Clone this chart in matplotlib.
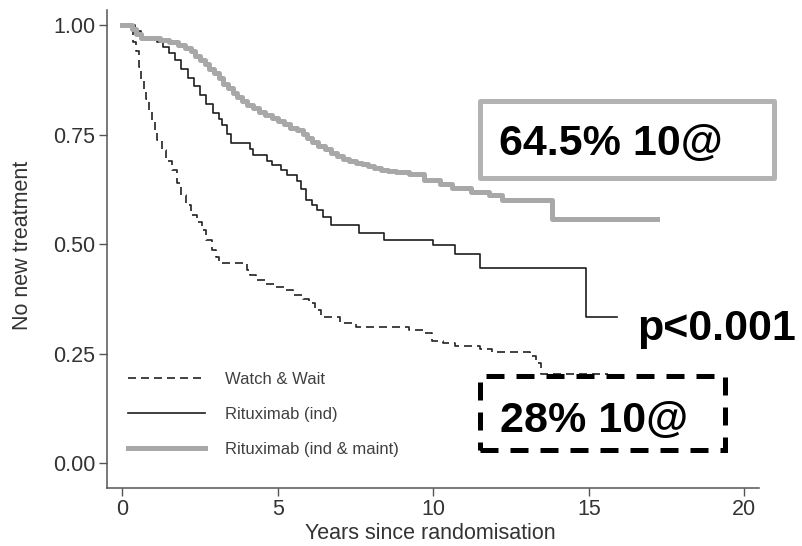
import matplotlib
matplotlib.use("Agg")
import matplotlib.pyplot as plt
from matplotlib.patches import Rectangle

plt.rcParams['font.family'] = ['Liberation Sans', 'DejaVu Sans']

# Kaplan-Meier steps: (years, proportion without new treatment)
ww_t = [0, 0.2, 0.35, 0.45, 0.55, 0.6, 0.7, 0.77, 0.85, 0.94, 1.05, 1.1, 1.26, 1.4,
        1.58, 1.75, 1.9, 2.05, 2.2, 2.4, 2.55, 2.7, 2.87, 3.0, 3.1, 4.0, 4.1, 4.3,
        4.6, 4.9, 5.2, 5.5, 5.8, 6.0, 6.2, 6.4, 7.0, 7.5, 9.2, 9.7, 9.95, 10.3,
        10.7, 11.5, 11.9, 13.1, 13.3, 13.45, 15.6]
ww_s = [1.0, 0.99, 0.96, 0.94, 0.905, 0.875, 0.85, 0.83, 0.805, 0.784, 0.76, 0.738,
        0.715, 0.69, 0.67, 0.64, 0.613, 0.59, 0.567, 0.55, 0.533, 0.51, 0.487, 0.47,
        0.458, 0.44, 0.43, 0.419, 0.41, 0.403, 0.395, 0.385, 0.375, 0.365, 0.35,
        0.333, 0.32, 0.312, 0.305, 0.298, 0.28, 0.275, 0.267, 0.26, 0.255, 0.244,
        0.23, 0.203, 0.203]

ri_t = [0, 0.4, 0.6, 1.1, 1.3, 1.5, 1.7, 1.9, 2.1, 2.3, 2.5, 2.7, 2.9, 3.1, 3.2,
        3.35, 3.5, 4.1, 4.2, 4.65, 4.8, 5.1, 5.3, 5.6, 5.75, 5.9, 6.1, 6.26, 6.45,
        6.7, 7.6, 8.4, 10.0, 10.7, 11.5, 14.9, 15.9]
ri_s = [1.0, 0.985, 0.97, 0.96, 0.95, 0.935, 0.92, 0.90, 0.88, 0.86, 0.84, 0.82,
        0.80, 0.785, 0.772, 0.752, 0.731, 0.718, 0.704, 0.69, 0.681, 0.668, 0.658,
        0.645, 0.625, 0.601, 0.59, 0.578, 0.562, 0.544, 0.526, 0.51, 0.499, 0.478,
        0.446, 0.335, 0.335]

rm_t = [0, 0.3, 0.45, 0.6, 1.2, 1.5, 1.8, 2.0, 2.2, 2.35, 2.5, 2.65, 2.8, 2.95,
        3.1, 3.25, 3.4, 3.55, 3.7, 3.85, 4.0, 4.2, 4.4, 4.6, 4.8, 5.0, 5.2, 5.4,
        5.6, 5.8, 5.95, 6.1, 6.3, 6.5, 6.7, 6.9, 7.1, 7.3, 7.5, 7.7, 7.9, 8.1,
        8.3, 8.55, 8.8, 9.2, 9.7, 10.2, 10.6, 11.2, 11.8, 12.2, 13.8, 17.2]
rm_s = [1.0, 0.99, 0.98, 0.97, 0.965, 0.96, 0.955, 0.948, 0.94, 0.93, 0.92, 0.91,
        0.9, 0.89, 0.878, 0.866, 0.855, 0.845, 0.835, 0.826, 0.818, 0.81, 0.802,
        0.795, 0.787, 0.78, 0.773, 0.766, 0.76, 0.752, 0.742, 0.732, 0.724, 0.716,
        0.708, 0.701, 0.695, 0.69, 0.686, 0.682, 0.678, 0.674, 0.67, 0.667, 0.664,
        0.66, 0.647, 0.638, 0.628, 0.62, 0.613, 0.601, 0.558, 0.558]

labels = ["Watch & Wait", "Rituximab (ind)", "Rituximab (ind & maint)"]
xticks = [0, 5, 10, 15, 20]
yticks = [0.0, 0.25, 0.5, 0.75, 1.0]

fig = plt.figure(figsize=(8.02, 5.46), dpi=100)
ax = fig.add_axes([0.1328, 0.1071, 0.8136, 0.8746])

ax.step(ww_t, ww_s, where='post', color='#222222', lw=1.2,
        linestyle=(0, (4.8, 3.0)), label=labels[0])
ax.step(ri_t, ri_s, where='post', color='#1e1e1e', lw=1.2, label=labels[1])
ax.step(rm_t, rm_s, where='post', color='#a8a8a8', lw=3.6, label=labels[2])

ax.set_xlim(-0.51, 20.47)
ax.set_ylim(-0.055, 1.034)
ax.set_xticks(xticks)
ax.set_yticks(yticks)
ax.set_yticklabels(["%.2f" % v for v in yticks])
for s in ['top', 'right']:
    ax.spines[s].set_visible(False)
for s in ['left', 'bottom']:
    ax.spines[s].set_color('#555555')
    ax.spines[s].set_linewidth(1.1)
ax.tick_params(direction='out', length=6, width=1.0, color='#555555',
               labelsize=15.5, labelcolor='#333333', pad=2)

ax.set_xlabel("Years since randomisation", fontsize=15.5, color='#333333')
ax.set_ylabel("No new treatment", fontsize=15.5, color='#333333')
ax.xaxis.label.set_va('center')
ax.yaxis.label.set_va('center')
ax.xaxis.set_label_coords(0.496, -0.097)
ax.yaxis.set_label_coords(-0.1295, 0.508)

leg = ax.legend(loc='lower left', bbox_to_anchor=(0.033, 0.064), frameon=False,
                fontsize=12, handlelength=4.6, handletextpad=1.2,
                labelspacing=1.2, borderaxespad=0, borderpad=0)
for t in leg.get_texts():
    t.set_color('#404040')

# annotation boxes
fig.patches.append(Rectangle((479.5 / 802, 1 - 177.5 / 546), 294 / 802, 77 / 546,
                             transform=fig.transFigure, fill=False,
                             ec='#b3b3b3', lw=3.6, joinstyle='round'))
fig.text(499 / 802, 1 - 155 / 546, "64.5% 10@", fontsize=31, fontweight='bold',
         ha='left', va='baseline')

fig.patches.append(Rectangle((479.5 / 802, 1 - 449.5 / 546), 245 / 802, 74 / 546,
                             transform=fig.transFigure, fill=False,
                             ec='black', lw=3.6, linestyle=(0, (3.6, 2.4))))
fig.text(500 / 802, 1 - 432 / 546, "28% 10@", fontsize=31, fontweight='bold',
         ha='left', va='baseline')

fig.text(637 / 802, 1 - 340 / 546, "p<0.001", fontsize=31, fontweight='bold',
         ha='left', va='baseline')

fig.savefig("out.png", dpi=100)
